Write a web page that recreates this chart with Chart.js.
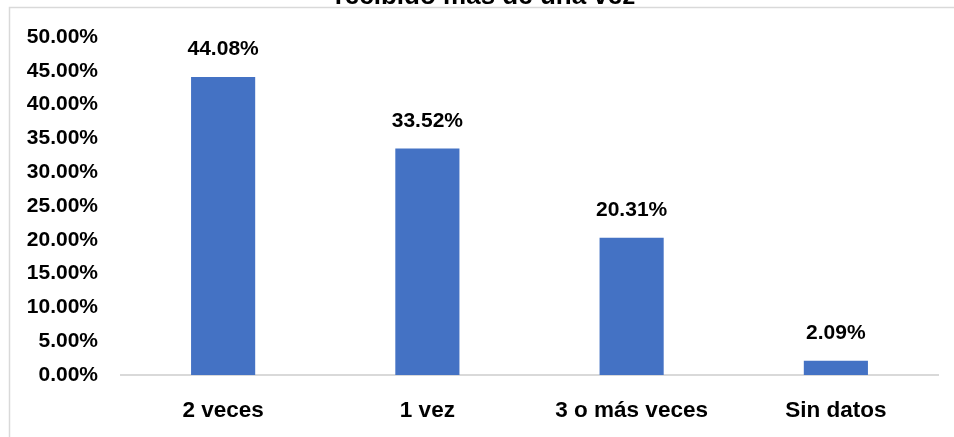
<!DOCTYPE html>
<html>
<head>
<meta charset="utf-8">
<script src="https://cdn.jsdelivr.net/npm/chart.js@4"></script>
<style>
  body { margin:0; background:#fff; }
  #wrap { width:954px; height:437px; position:relative; }
</style>
</head>
<body>
<div id="wrap"><canvas id="chart"></canvas></div>
<script>
const categories = ["2 veces", "1 vez", "3 o más veces", "Sin datos"];
const values = [44.08, 33.52, 20.31, 2.09];
const yTicks = [0, 5, 10, 15, 20, 25, 30, 35, 40, 45, 50];
const titleText = "recibido más de una vez";

const fontFamily = "'Liberation Sans', Arial, sans-serif";

// frame around the chart and the cut-off title line
const framePlugin = {
  id: "frame",
  beforeDraw(chart) {
    const ctx = chart.ctx;
    ctx.save();
    ctx.strokeStyle = "#d9d9d9";
    ctx.lineWidth = 1.5;
    ctx.strokeRect(9.5, 7.5, 960, 460);
    ctx.fillStyle = "#000";
    ctx.font = "bold 26px " + fontFamily;
    ctx.textAlign = "center";
    ctx.textBaseline = "alphabetic";
    ctx.fillText(titleText, 485, 4);
    ctx.restore();
  }
};

// value labels over each bar
const valueLabels = {
  id: "valueLabels",
  afterDatasetsDraw(chart) {
    const ctx = chart.ctx;
    const meta = chart.getDatasetMeta(0);
    ctx.save();
    ctx.fillStyle = "#000";
    ctx.font = "bold 21px " + fontFamily;
    ctx.textAlign = "center";
    ctx.textBaseline = "bottom";
    meta.data.forEach((bar, i) => {
      ctx.fillText(values[i].toFixed(2) + "%", bar.x, bar.y - 17);
    });
    ctx.restore();
  }
};

new Chart(document.getElementById("chart"), {
  type: "bar",
  data: {
    labels: categories,
    datasets: [{
      data: values,
      backgroundColor: "#4472C4",
      categoryPercentage: 1,
      barPercentage: 0.314
    }]
  },
  options: {
    responsive: true,
    maintainAspectRatio: false,
    animation: false,
    layout: { padding: { top: 37, right: 16, left: 0, bottom: 0 } },
    plugins: {
      legend: { display: false },
      tooltip: { enabled: false }
    },
    scales: {
      x: {
        grid: { display: false, drawTicks: false },
        border: { display: true, color: "#d9d9d9", width: 2 },
        ticks: {
          color: "#000",
          padding: 22,
          font: { family: fontFamily, size: 22.5, weight: "bold" }
        },
        afterFit(scale) { scale.height = 62; }
      },
      y: {
        min: 0,
        max: 50,
        afterBuildTicks(scale) { scale.ticks = yTicks.map(v => ({ value: v })); },
        grid: { display: false, drawTicks: false },
        border: { display: false },
        ticks: {
          color: "#000",
          padding: 23,
          font: { family: fontFamily, size: 21, weight: "bold" },
          callback: v => v.toFixed(2) + "%"
        },
        afterFit(scale) { scale.width = 121; }
      }
    }
  },
  plugins: [framePlugin, valueLabels]
});
</script>
</body>
</html>
